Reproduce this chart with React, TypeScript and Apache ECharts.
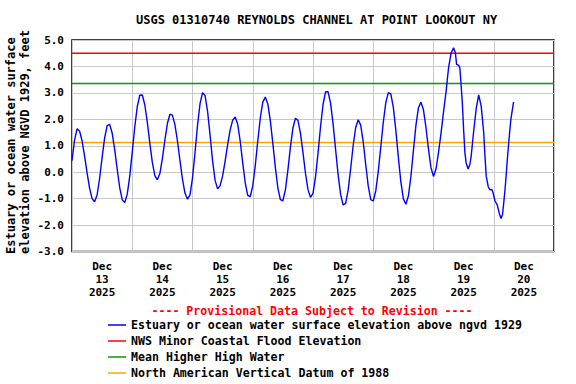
import React, { useEffect, useRef } from "react";
import * as echarts from "echarts";

const TITLE = "USGS 01310740 REYNOLDS CHANNEL AT POINT LOOKOUT NY";
const Y_NAME_LINES = ["Estuary or ocean water surface", "elevation above NGVD 1929, feet"];
const PROVISIONAL = "---- Provisional Data Subject to Revision ----";

const MONTH = "Dec";
const YEAR = "2025";
const DAY_LABELS = ["13", "14", "15", "16", "17", "18", "19", "20"];

const SERIES_NAMES = [
  "Estuary or ocean water surface elevation above ngvd 1929",
  "NWS Minor Coastal Flood Elevation",
  "Mean Higher High Water",
  "North American Vertical Datum of 1988",
];

// hours since Dec 13 2025 00:00
const hours = [
  0, 1, 2, 3, 4, 5, 6, 7, 8, 9, 10, 11, 12, 13, 14, 15, 16, 17, 18, 19, 20, 21, 22, 23,
  24, 25, 26, 27, 28, 29, 30, 31, 32, 33, 34, 35, 36, 37, 38, 39, 40, 41, 42, 43, 44, 45, 46, 47,
  48, 49, 50, 51, 52, 53, 54, 55, 56, 57, 58, 59, 60, 61, 62, 63, 64, 65, 66, 67, 68, 69, 70, 71,
  72, 73, 74, 75, 76, 77, 78, 79, 80, 81, 82, 83, 84, 85, 86, 87, 88, 89, 90, 91, 92, 93, 94, 95,
  96, 97, 98, 99, 100, 101, 102, 103, 104, 105, 106, 107, 108, 109, 110, 111, 112, 113, 114, 115, 116, 117, 118, 119,
  120, 121, 122, 123, 124, 125, 126, 127, 128, 129, 130, 131, 132, 133, 134, 135, 136, 137, 138, 139, 140, 141, 142, 143,
  144, 145, 146, 147, 148, 149, 150, 151, 152, 152.7, 153.2, 154, 154.5, 155, 155.5, 156, 156.5, 157, 157.8, 158.5, 159,
  160, 161, 162, 163, 164, 164.5, 165, 165.8, 166.5, 167.2, 167.8, 168.5, 169.4, 170.2, 170.9, 171.5, 172.1, 172.7,
  173.4, 174, 174.8, 175.9,
];

// water level, feet
const levels = [
  0.44, 1.2, 1.64, 1.56, 1.19, 0.62, -0.02, -0.6, -1.0, -1.12, -0.86, -0.23, 0.56, 1.3, 1.76, 1.81, 1.48, 0.86, 0.11, -0.58, -1.04, -1.15, -0.84, -0.15,
  0.76, 1.71, 2.48, 2.91, 2.92, 2.55, 1.89, 1.1, 0.37, -0.13, -0.29, -0.05, 0.51, 1.21, 1.84, 2.19, 2.16, 1.8, 1.18, 0.45, -0.26, -0.79, -1.02, -0.86,
  -0.22, 0.74, 1.77, 2.59, 3.01, 2.9, 2.31, 1.4, 0.43, -0.31, -0.63, -0.51, -0.14, 0.42, 1.04, 1.6, 1.97, 2.09, 1.82, 1.18, 0.35, -0.4, -0.88, -0.92,
  -0.52, 0.25, 1.18, 2.05, 2.65, 2.84, 2.58, 1.95, 1.09, 0.18, -0.59, -1.04, -1.08, -0.67, 0.08, 0.95, 1.67, 2.04, 1.96, 1.48, 0.75, -0.04, -0.66, -0.95,
  -0.8, -0.19, 0.72, 1.72, 2.56, 3.04, 3.04, 2.61, 1.83, 0.86, -0.09, -0.84, -1.24, -1.18, -0.68, 0.13, 1.01, 1.69, 1.98, 1.78, 1.15, 0.29, -0.52, -1.04,
  -1.09, -0.71, 0.03, 0.96, 1.89, 2.63, 3.01, 2.96, 2.45, 1.58, 0.56, -0.37, -1.01, -1.21, -0.9, -0.16, 0.82, 1.77, 2.44, 2.65, 2.36, 1.69, 0.87, 0.17,
  -0.16, 0.12, 0.75, 1.48, 2.28, 3.05, 3.95, 4.5, 4.71, 4.52, 4.08, 4.04, 3.95, 3.3, 2.6, 1.6, 0.75, 0.35, 0.12, 0.3, 0.6,
  1.55, 2.4, 2.92, 2.5, 1.5, 0.6, -0.15, -0.55, -0.67, -0.65, -0.8, -1.09, -1.24, -1.56, -1.75, -1.6, -1.05, -0.42,
  0.47, 1.16, 1.99, 2.66,
];

const floodLevel = 4.5;
const mhhwLevel = 3.35;
const navdLevel = 1.12;

const X_MIN = 0;
const X_MAX = 192;

const FONT = "DejaVu Sans Mono";

export default function App() {
  const ref = useRef<HTMLDivElement>(null);

  useEffect(() => {
    document.body.style.margin = "0";
    if (!ref.current) return;
    const chart = echarts.init(ref.current, null, { renderer: "svg" });

    const refLine = (v: number) => [
      [X_MIN, v],
      [X_MAX, v],
    ];

    chart.setOption({
      animation: false,
      backgroundColor: "#ffffff",
      title: {
        text: TITLE,
        left: 136,
        top: 14,
        padding: 0,
        textStyle: { fontFamily: FONT, fontSize: 12, fontWeight: "bold", color: "#000" },
      },
      grid: {
        left: 72,
        top: 40,
        width: 482,
        height: 211.5,
        show: true,
        borderColor: "#000",
        borderWidth: 1.5,
        backgroundColor: "transparent",
      },
      legend: {
        orient: "vertical",
        left: 108,
        top: 317,
        padding: 0,
        itemGap: 0,
        itemWidth: 18,
        itemHeight: 1.5,
        icon: "rect",
        data: SERIES_NAMES,
        textStyle: { fontFamily: FONT, fontSize: 11.6, fontWeight: "bold", color: "#000", lineHeight: 16 },
      },
      xAxis: [
        {
          type: "value",
          min: X_MIN,
          max: X_MAX,
          interval: 24,
          axisLine: { show: false },
          axisTick: { show: false },
          axisLabel: { show: false },
          splitLine: { show: true, lineStyle: { color: "#c8c8c8", width: 1 } },
        },
        {
          type: "value",
          position: "bottom",
          min: X_MIN,
          max: X_MAX,
          interval: 12,
          axisLine: { show: false },
          axisTick: { show: false },
          splitLine: { show: false },
          axisLabel: {
            margin: 8,
            fontFamily: FONT,
            fontSize: 11,
            fontWeight: "bold",
            color: "#000",
            lineHeight: 13.3,
            showMinLabel: true,
            showMaxLabel: true,
            formatter: (v: number) => {
              if (v % 24 !== 12) return "";
              const d = DAY_LABELS[(v - 12) / 24];
              return d ? `${MONTH}\n${d}\n${YEAR}` : "";
            },
          },
        },
      ],
      yAxis: {
        type: "value",
        min: -3,
        max: 5,
        interval: 1,
        axisLine: { show: false },
        axisTick: { show: false },
        axisLabel: {
          margin: 8,
          fontFamily: FONT,
          fontSize: 11,
          fontWeight: "bold",
          color: "#000",
          formatter: (v: number) => v.toFixed(1),
        },
        splitLine: { show: true, lineStyle: { color: "#c8c8c8", width: 1 } },
      },
      graphic: [
        {
          type: "text",
          x: 18,
          y: 254,
          rotation: Math.PI / 2,
          style: {
            text: Y_NAME_LINES.join("\n"),
            align: "left",
            verticalAlign: "middle",
            fontFamily: FONT,
            fontSize: 12,
            fontWeight: "bold",
            lineHeight: 13.5,
            fill: "#000",
          },
        },
        {
          type: "text",
          x: 312,
          y: 311,
          style: {
            text: PROVISIONAL,
            align: "center",
            verticalAlign: "middle",
            fontFamily: FONT,
            fontSize: 11.6,
            fontWeight: "bold",
            fill: "#ff0000",
          },
        },
      ],
      series: [
        {
          name: SERIES_NAMES[1],
          type: "line",
          xAxisIndex: 0,
          data: refLine(floodLevel),
          showSymbol: false,
          color: "#ff0000",
          lineStyle: { color: "#ff0000", width: 1.5 },
          z: 2,
        },
        {
          name: SERIES_NAMES[2],
          type: "line",
          xAxisIndex: 0,
          data: refLine(mhhwLevel),
          showSymbol: false,
          color: "#00a000",
          lineStyle: { color: "#00a000", width: 1.5 },
          z: 2,
        },
        {
          name: SERIES_NAMES[3],
          type: "line",
          xAxisIndex: 0,
          data: refLine(navdLevel),
          showSymbol: false,
          color: "#ffa500",
          lineStyle: { color: "#ffa500", width: 1.5 },
          z: 2,
        },
        {
          name: SERIES_NAMES[0],
          type: "line",
          xAxisIndex: 0,
          data: hours.map((h, i) => [h, levels[i]]),
          showSymbol: false,
          color: "#0000ff",
          lineStyle: { color: "#0000ff", width: 1.4 },
          z: 3,
        },
      ],
    });

    return () => chart.dispose();
  }, []);

  return <div ref={ref} style={{ width: 576, height: 384 }} />;
}
